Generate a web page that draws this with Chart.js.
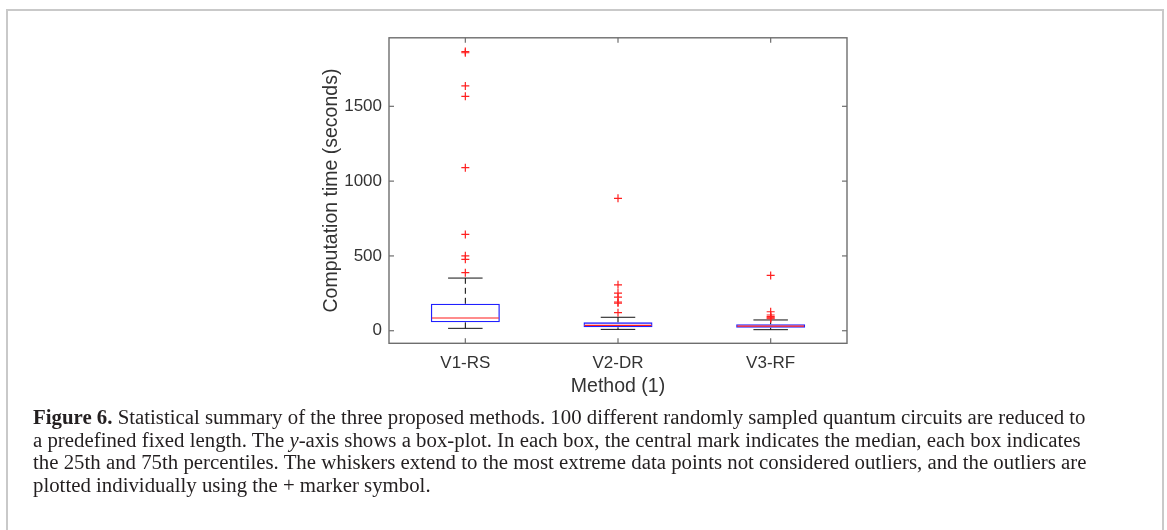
<!DOCTYPE html>
<html>
<head>
<meta charset="utf-8">
<script src="https://cdn.jsdelivr.net/npm/chart.js@4/dist/chart.umd.min.js"></script>
<style>
html,body{margin:0;padding:0;background:#fff;width:1167px;height:530px;overflow:hidden;}
#frame{position:absolute;left:6px;top:9px;width:1158px;height:560px;border:2px solid #c9c9c9;box-sizing:border-box;}
#wrap{position:absolute;left:0;top:0;width:1167px;height:420px;}
#cap{position:absolute;left:33px;top:406px;font-family:"Liberation Serif","Times New Roman",serif;color:#231f20;white-space:nowrap;line-height:22.7px;font-size:18px;}
#cap div{display:block;}
#cap span.l{display:inline-block;}
</style>
</head>
<body>
<div id="frame"></div>
<div id="wrap"><canvas id="c" width="1167" height="420"></canvas></div>
<div id="cap">
<div><span class="l" id="l1"><b>Figure 6.</b> Statistical summary of the three proposed methods. 100 different randomly sampled quantum circuits are reduced to</span></div>
<div><span class="l">a predefined fixed length. The <i>y</i>-axis shows a box-plot. In each box, the central mark indicates the median, each box indicates</span></div>
<div><span class="l">the 25th and 75th percentiles. The whiskers extend to the most extreme data points not considered outliers, and the outliers are</span></div>
<div><span class="l">plotted individually using the + marker symbol.</span></div>
</div>
<script>
// ---- data ----
const categories = ['V1-RS', 'V2-DR', 'V3-RF'];
const whiskerLow = [16, 9, 7];
const q1 = [56, 23, 20];
const median = [85, 36, 31];
const q3 = [180, 56, 43];
const whiskerHigh = [352, 90, 72];
const outliersV1 = [1866, 1858, 1636, 1567, 1090, 644, 501, 477, 388];
const outliersV2 = [885, 307, 252, 225, 192, 185, 121];
const outliersV3 = [370, 127, 105, 95, 90, 85, 80];
const yTicks = [0, 500, 1000, 1500];
const yTickLabels = ['0', '500', '1000', '1500'];
const yMin = -84;
const yMax = 1958;

// ---- fit caption font size ----
(function(){
  const l1 = document.getElementById('l1');
  const w = l1.getBoundingClientRect().width;
  const target = 1053;
  const fs = 18 * target / w;
  document.getElementById('cap').style.fontSize = fs.toFixed(2) + 'px';
})();

const outlierPoints = [];
[outliersV1, outliersV2, outliersV3].forEach((arr, i) => {
  arr.forEach(v => outlierPoints.push({x: categories[i], y: v}));
});

function line(ctx, x1, y1, x2, y2){
  ctx.beginPath(); ctx.moveTo(x1, y1); ctx.lineTo(x2, y2); ctx.stroke();
}

const boxExtras = {
  id: 'boxExtras',
  beforeDatasetsDraw(chart){
    const {ctx, scales: {x, y}} = chart;
    const meta = chart.getDatasetMeta(0);
    ctx.save();
    categories.forEach((c, i) => {
      const bar = meta.data[i];
      const cx = x.getPixelForValue(i);
      const half = bar.width / 2;
      const cap = half / 2;
      ctx.strokeStyle = '#000';
      ctx.lineWidth = 1;
      ctx.setLineDash([6, 4]);
      line(ctx, cx, y.getPixelForValue(q3[i]), cx, y.getPixelForValue(whiskerHigh[i]));
      line(ctx, cx, y.getPixelForValue(q1[i]), cx, y.getPixelForValue(whiskerLow[i]));
      ctx.setLineDash([]);
      ctx.strokeStyle = '#111';
      const yh = y.getPixelForValue(whiskerHigh[i]);
      const yl = y.getPixelForValue(whiskerLow[i]);
      line(ctx, cx - cap, yh, cx + cap, yh);
      line(ctx, cx - cap, yl, cx + cap, yl);
    });
    ctx.restore();
  },
  afterDatasetsDraw(chart){
    const {ctx, scales: {x, y}} = chart;
    const meta = chart.getDatasetMeta(0);
    ctx.save();
    categories.forEach((c, i) => {
      const bar = meta.data[i];
      const cx = x.getPixelForValue(i);
      const half = bar.width / 2;
      ctx.strokeStyle = '#ff1a1a';
      ctx.lineWidth = 1.2;
      const ym = y.getPixelForValue(median[i]);
      line(ctx, cx - half + 1, ym, cx + half - 1, ym);
    });
    ctx.restore();
  },
  afterDraw(chart){
    const {ctx, chartArea: a, scales: {x, y}} = chart;
    ctx.save();
    ctx.strokeStyle = '#6e6e6e';
    ctx.lineWidth = 1.4;
    ctx.strokeRect(a.left, a.top, a.right - a.left, a.bottom - a.top);
    const tl = 5;
    ctx.lineWidth = 1.2;
    yTicks.forEach(v => {
      const py = y.getPixelForValue(v);
      line(ctx, a.left, py, a.left + tl, py);
      line(ctx, a.right, py, a.right - tl, py);
    });
    categories.forEach((c, i) => {
      const px = x.getPixelForValue(i);
      line(ctx, px, a.bottom, px, a.bottom - tl);
      line(ctx, px, a.top, px, a.top + tl);
    });
    ctx.restore();
  }
};

new Chart(document.getElementById('c'), {
  data: {
    labels: categories,
    datasets: [
      {
        type: 'bar',
        data: categories.map((c, i) => [q1[i], q3[i]]),
        backgroundColor: 'rgba(0,0,0,0)',
        borderColor: '#2020ff',
        borderWidth: 1.3,
        borderSkipped: false,
        barPercentage: 0.452,
        categoryPercentage: 1.0,
        order: 2
      },
      {
        type: 'scatter',
        data: outlierPoints,
        pointStyle: 'cross',
        radius: 4,
        borderColor: '#ff2020',
        backgroundColor: '#ff2020',
        borderWidth: 1.2,
        order: 1
      }
    ]
  },
  options: {
    responsive: false,
    animation: false,
    events: [],
    layout: {padding: {left: 320, right: 320, top: 37.8, bottom: 16.7}},
    plugins: {legend: {display: false}, tooltip: {enabled: false}},
    scales: {
      x: {
        type: 'category',
        offset: true,
        grid: {display: false, drawTicks: false},
        border: {display: false},
        ticks: {font: {family: 'Liberation Sans', size: 17}, color: '#333', padding: 9.5},
        title: {display: true, text: 'Method (1)', font: {family: 'Liberation Sans', size: 19.5}, color: '#333', padding: {top: 0, bottom: 5}},
        afterFit(s){ s.height = 60; }
      },
      y: {
        type: 'linear',
        min: yMin,
        max: yMax,
        grid: {display: false, drawTicks: false},
        border: {display: false},
        afterBuildTicks(s){ s.ticks = yTicks.map(v => ({value: v})); },
        ticks: {
          font: {family: 'Liberation Sans', size: 17}, color: '#333', padding: 7,
          callback: (v) => { const k = yTicks.indexOf(v); return k >= 0 ? yTickLabels[k] : ''; }
        },
        title: {display: true, text: 'Computation time (seconds)', font: {family: 'Liberation Sans', size: 19.5}, color: '#333', padding: {top: 0, bottom: 0}},
        afterFit(s){ s.width = 69; }
      }
    }
  },
  plugins: [boxExtras]
});
</script>
</body>
</html>
